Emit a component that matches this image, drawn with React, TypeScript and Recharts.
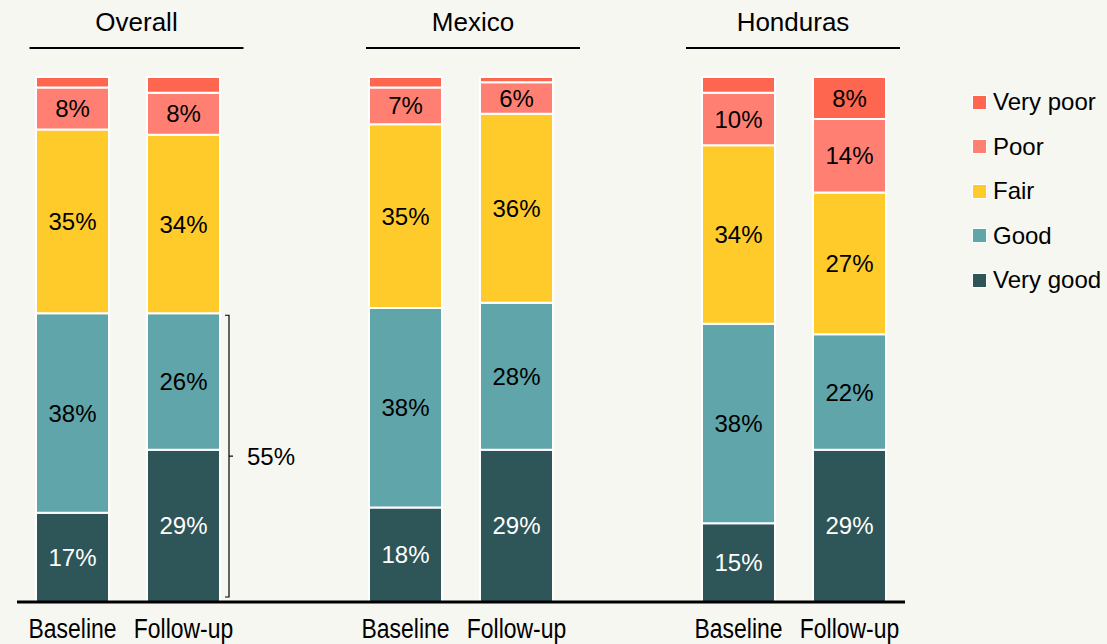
import React from "react";
import { BarChart, Bar, XAxis, YAxis, LabelList } from "recharts";

// categories (blank ones leave the gaps between groups)
const ids = ["ov-b", "ov-f", "gap1", "mx-b", "mx-f", "gap2", "hn-b", "hn-f"];
const tickLabels = ["Baseline", "Follow-up", "", "Baseline", "Follow-up", "", "Baseline", "Follow-up"];
const groups = ["Overall", "Mexico", "Honduras"];

// shares in %, null for the gap columns
const veryGood = [17, 29, null, 18, 29, null, 15, 29];
const good = [38, 26, null, 38, 28, null, 38, 22];
const fair = [35, 34, null, 35, 36, null, 34, 27];
const poor = [8, 8, null, 7, 6, null, 10, 14];
const veryPoor = [2, 3, null, 2, 1, null, 3, 8];

const bracketValue = 55;

const series = [
  { key: "veryGood", name: "Very good", color: "#2E5558", text: "#FFFFFF", values: veryGood },
  { key: "good", name: "Good", color: "#5FA5AA", text: "#000000", values: good },
  { key: "fair", name: "Fair", color: "#FFCB2B", text: "#000000", values: fair },
  { key: "poor", name: "Poor", color: "#FF8073", text: "#000000", values: poor },
  { key: "veryPoor", name: "Very poor", color: "#FF6650", text: "#000000", values: veryPoor },
];

const data = ids.map((id, i) => {
  const row: any = { id, label: tickLabels[i] };
  series.forEach((s) => (row[s.key] = s.values[i]));
  return row;
});

const W = 1107;
const H = 644;
const M = { top: 77, right: 202, bottom: 0, left: 17 };
const AXIS_H = 42;
const plotW = W - M.left - M.right;
const plotH = H - M.top - AXIS_H;
const band = plotW / ids.length;
const yOf = (v: number) => M.top + plotH * (1 - v / 100);
const xOf = (i: number) => M.left + band * (i + 0.5);

const FONT = "'Liberation Sans', Arial, sans-serif";

const segLabel = (textColor: string) => (props: any) => {
  const { x, y, width, height, value } = props;
  if (value == null || value < 5) return null;
  return (
    <text
      x={x + width / 2}
      y={y + height / 2}
      textAnchor="middle"
      dominantBaseline="central"
      fill={textColor}
      fontSize={24}
      fontFamily={FONT}
    >
      {value}%
    </text>
  );
};

// condensed look of the category labels
const NarrowTick = (props: any) => {
  const { x, y, payload } = props;
  const label = tickLabels[ids.indexOf(payload.value)];
  if (!label) return null;
  return (
    <g transform={`translate(${x},${y + 28}) scale(0.85,1)`}>
      <text x={0} y={0} textAnchor="middle" fontSize={27} fontFamily={FONT} fill="#000">
        {label}
      </text>
    </g>
  );
};

const LegendBox = () => (
  <div style={{ position: "absolute", left: 972, top: 80, fontFamily: FONT, fontSize: 24, color: "#000" }}>
    {[...series].reverse().map((s) => (
      <div key={s.key} style={{ display: "flex", alignItems: "center", height: 44.5 }}>
        <span style={{ width: 13, height: 13, background: s.color, border: "1px solid #fff", marginRight: 6 }} />
        <span>{s.name}</span>
      </div>
    ))}
  </div>
);

const App = () => {
  const groupIdx = [0, 3, 6];
  const headerShift = [8.5, 12, -1];
  return (
    <div style={{ position: "absolute", left: 0, top: 0, width: W, height: H, background: "#F7F7F2" }}>
      <BarChart width={W} height={H} data={data} margin={M} barSize={73}>
        <XAxis
          dataKey="id"
          height={AXIS_H}
          tickLine={false}
          axisLine={{ stroke: "#000", strokeWidth: 3 }}
          tick={<NarrowTick />}
          interval={0}
        />
        <YAxis hide domain={[0, 100]} />
        {series.map((s) => (
          <Bar
            key={s.key}
            dataKey={s.key}
            name={s.name}
            stackId="a"
            fill={s.color}
            stroke="#FFFFFF"
            strokeWidth={2}
            isAnimationActive={false}
          >
            <LabelList dataKey={s.key} content={segLabel(s.text)} />
          </Bar>
        ))}
      </BarChart>
      <LegendBox />
      <svg width={W} height={H} style={{ position: "absolute", left: 0, top: 0, pointerEvents: "none" }}>
        {groups.map((g, k) => {
          const cx = (xOf(groupIdx[k]) + xOf(groupIdx[k] + 1)) / 2 + headerShift[k];
          return (
            <g key={g}>
              <text x={cx} y={22} textAnchor="middle" dominantBaseline="central" fontSize={26} fontFamily={FONT} fill="#000">
                {g}
              </text>
              <line x1={cx - 107} x2={cx + 107} y1={48} y2={48} stroke="#000" strokeWidth={2} />
            </g>
          );
        })}
        {(() => {
          const bx = xOf(1) + 45.5;
          const y1 = yOf(bracketValue) + 2;
          const y2 = yOf(0) - 5;
          const ym = (y1 + y2) / 2;
          return (
            <g stroke="#000" strokeWidth={1.2} fill="none">
              <path d={`M${bx - 4},${y1} L${bx},${y1} L${bx},${y2} L${bx - 4},${y2}`} />
              <line x1={bx} x2={bx + 4} y1={ym} y2={ym} />
              <text x={bx + 18} y={ym} dominantBaseline="central" fontSize={24} fontFamily={FONT} fill="#000" stroke="none">
                {bracketValue}%
              </text>
            </g>
          );
        })()}
      </svg>
    </div>
  );
};

export default App;
